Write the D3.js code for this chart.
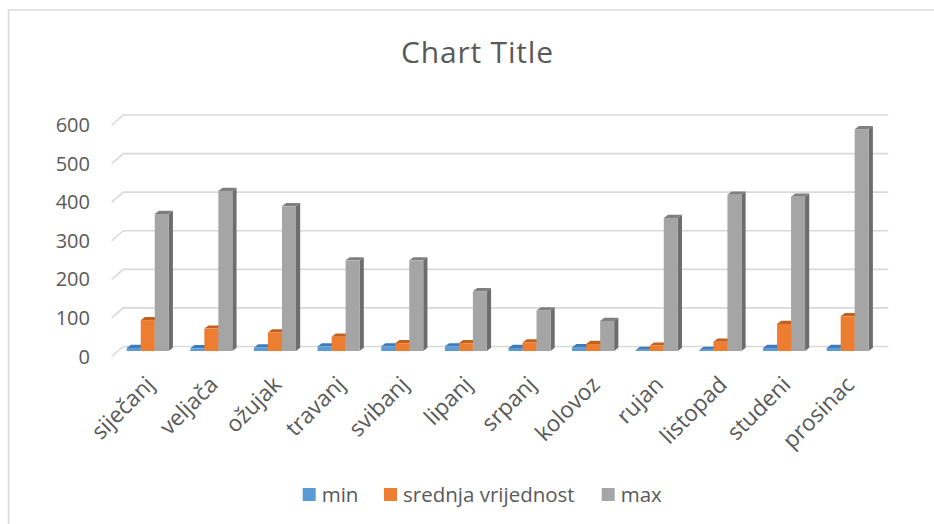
<!DOCTYPE html>
<html>
<head>
<meta charset="utf-8">
<script src="https://cdn.jsdelivr.net/npm/d3@7"></script>
<style>
  body { margin: 0; background: #fff; }
  text { font-family: "Open Sans", sans-serif; fill: #595959; }
</style>
</head>
<body>
<div id="chart"></div>
<script>
// months (x categories)
var months = ["siječanj", "veljača", "ožujak", "travanj", "svibanj", "lipanj",
              "srpanj", "kolovoz", "rujan", "listopad", "studeni", "prosinac"];
var seriesNames = ["min", "srednja vrijednost", "max"];
var minVals  = [8, 7, 9, 12, 12, 12, 8, 10, 3, 3, 8, 8];
var avgVals  = [80, 58, 48, 37, 20, 20, 22, 18, 14, 24, 70, 90];
var maxVals  = [355, 415, 375, 235, 235, 155, 105, 78, 345, 405, 400, 575];
var yTicks   = [0, 100, 200, 300, 400, 500, 600];

var W = 934, H = 524;
var depth = {dx: 11.6, dy: -10};   // floor depth (front -> back wall)
var barOff = 4.5;                   // bar front sits this far below back-wall line
var barTop = {dx: 4.2, dy: -3.2};   // top face / side face depth of a bar

var colors = ["#5b9bd5", "#ed7d31", "#a5a5a5"];
var topColors = ["#3f7cb7", "#c2611c", "#7f7f7f"];
var sideColors = ["#41719c", "#ae5a21", "#6d6d6d"];

var svg = d3.select("#chart").append("svg")
    .attr("width", W).attr("height", H);

// outer frame (only top/left visible in the crop)
svg.append("rect")
    .attr("x", 8.5).attr("y", 10).attr("width", W + 20).attr("height", H + 20)
    .attr("fill", "none").attr("stroke", "#d9d9d9").attr("stroke-width", 1.5);

svg.append("text")
    .attr("x", 477).attr("y", 63)
    .attr("text-anchor", "middle")
    .attr("font-size", 30)
    .attr("textLength", 152)
    .attr("lengthAdjust", "spacing")
    .text("Chart Title");

var y = d3.scaleLinear().domain([0, 600]).range([346.5, 115]);

var x0 = d3.scaleBand().domain(months)
    .range([115.9, 879.5])
    .paddingInner(0.34).paddingOuter(0.17);
var x1 = d3.scaleBand().domain(seriesNames).range([0, x0.bandwidth()]);

// gridlines on back wall with slanted floor/side part
var grid = svg.append("g");
var wallLeft = 123.3, wallRight = 888.3;
yTicks.forEach(function(t) {
  grid.append("path")
    .attr("d", "M" + (wallLeft - depth.dx) + "," + (y(t) - depth.dy) +
               "L" + wallLeft + "," + y(t) + "L" + wallRight + "," + y(t))
    .attr("fill", "none").attr("stroke", "#d9d9d9").attr("stroke-width", 1.6);
});

// y tick labels, at the front edge
svg.append("g").selectAll("text").data(yTicks).enter().append("text")
    .attr("x", 90).attr("y", function(d) { return y(d) - depth.dy; })
    .attr("dy", "0.35em")
    .attr("text-anchor", "end")
    .attr("font-size", 20)
    .text(function(d) { return d; });

// bars
var allVals = [minVals, avgVals, maxVals];
var bars = svg.append("g");
seriesNames.forEach(function(s, si) {
  var g = bars.append("g");
  months.forEach(function(m, i) {
    var v = allVals[si][i];
    var xl = x0(m) + x1(s), w = x1.bandwidth();
    var yt = y(v) + barOff, yb = y(0) + barOff;
    // side face
    g.append("path")
      .attr("d", "M" + (xl + w) + "," + yt + "L" + (xl + w + barTop.dx) + "," + (yt + barTop.dy) +
                 "L" + (xl + w + barTop.dx) + "," + (yb + barTop.dy) + "L" + (xl + w) + "," + yb + "Z")
      .attr("fill", sideColors[si]);
    // top face
    g.append("path")
      .attr("d", "M" + xl + "," + yt + "L" + (xl + barTop.dx) + "," + (yt + barTop.dy) +
                 "L" + (xl + w + barTop.dx) + "," + (yt + barTop.dy) + "L" + (xl + w) + "," + yt + "Z")
      .attr("fill", topColors[si]);
    // front face
    g.append("rect")
      .attr("x", xl).attr("y", yt)
      .attr("width", w).attr("height", yb - yt)
      .attr("fill", colors[si]);
  });
});

// x labels rotated -45
svg.append("g").selectAll("text").data(months).enter().append("text")
    .attr("text-anchor", "end")
    .attr("font-size", 22.5)
    .attr("transform", function(d) {
      var cx = x0(d) + x0.bandwidth() / 2 + 8;
      return "translate(" + cx + ",386) rotate(-45)";
    })
    .text(function(d) { return d; });

// legend
var legendX = [302.7, 384, 601.7];
var legend = svg.append("g").selectAll("g").data(seriesNames).enter().append("g")
    .attr("transform", function(d, i) { return "translate(" + legendX[i] + ",488)"; });
legend.append("rect")
    .attr("width", 13).attr("height", 13)
    .attr("fill", function(d, i) { return colors[i]; });
legend.append("text")
    .attr("x", 19).attr("y", 6.5).attr("dy", "0.35em")
    .attr("font-size", 20.5)
    .text(function(d) { return d; });
</script>
</body>
</html>
